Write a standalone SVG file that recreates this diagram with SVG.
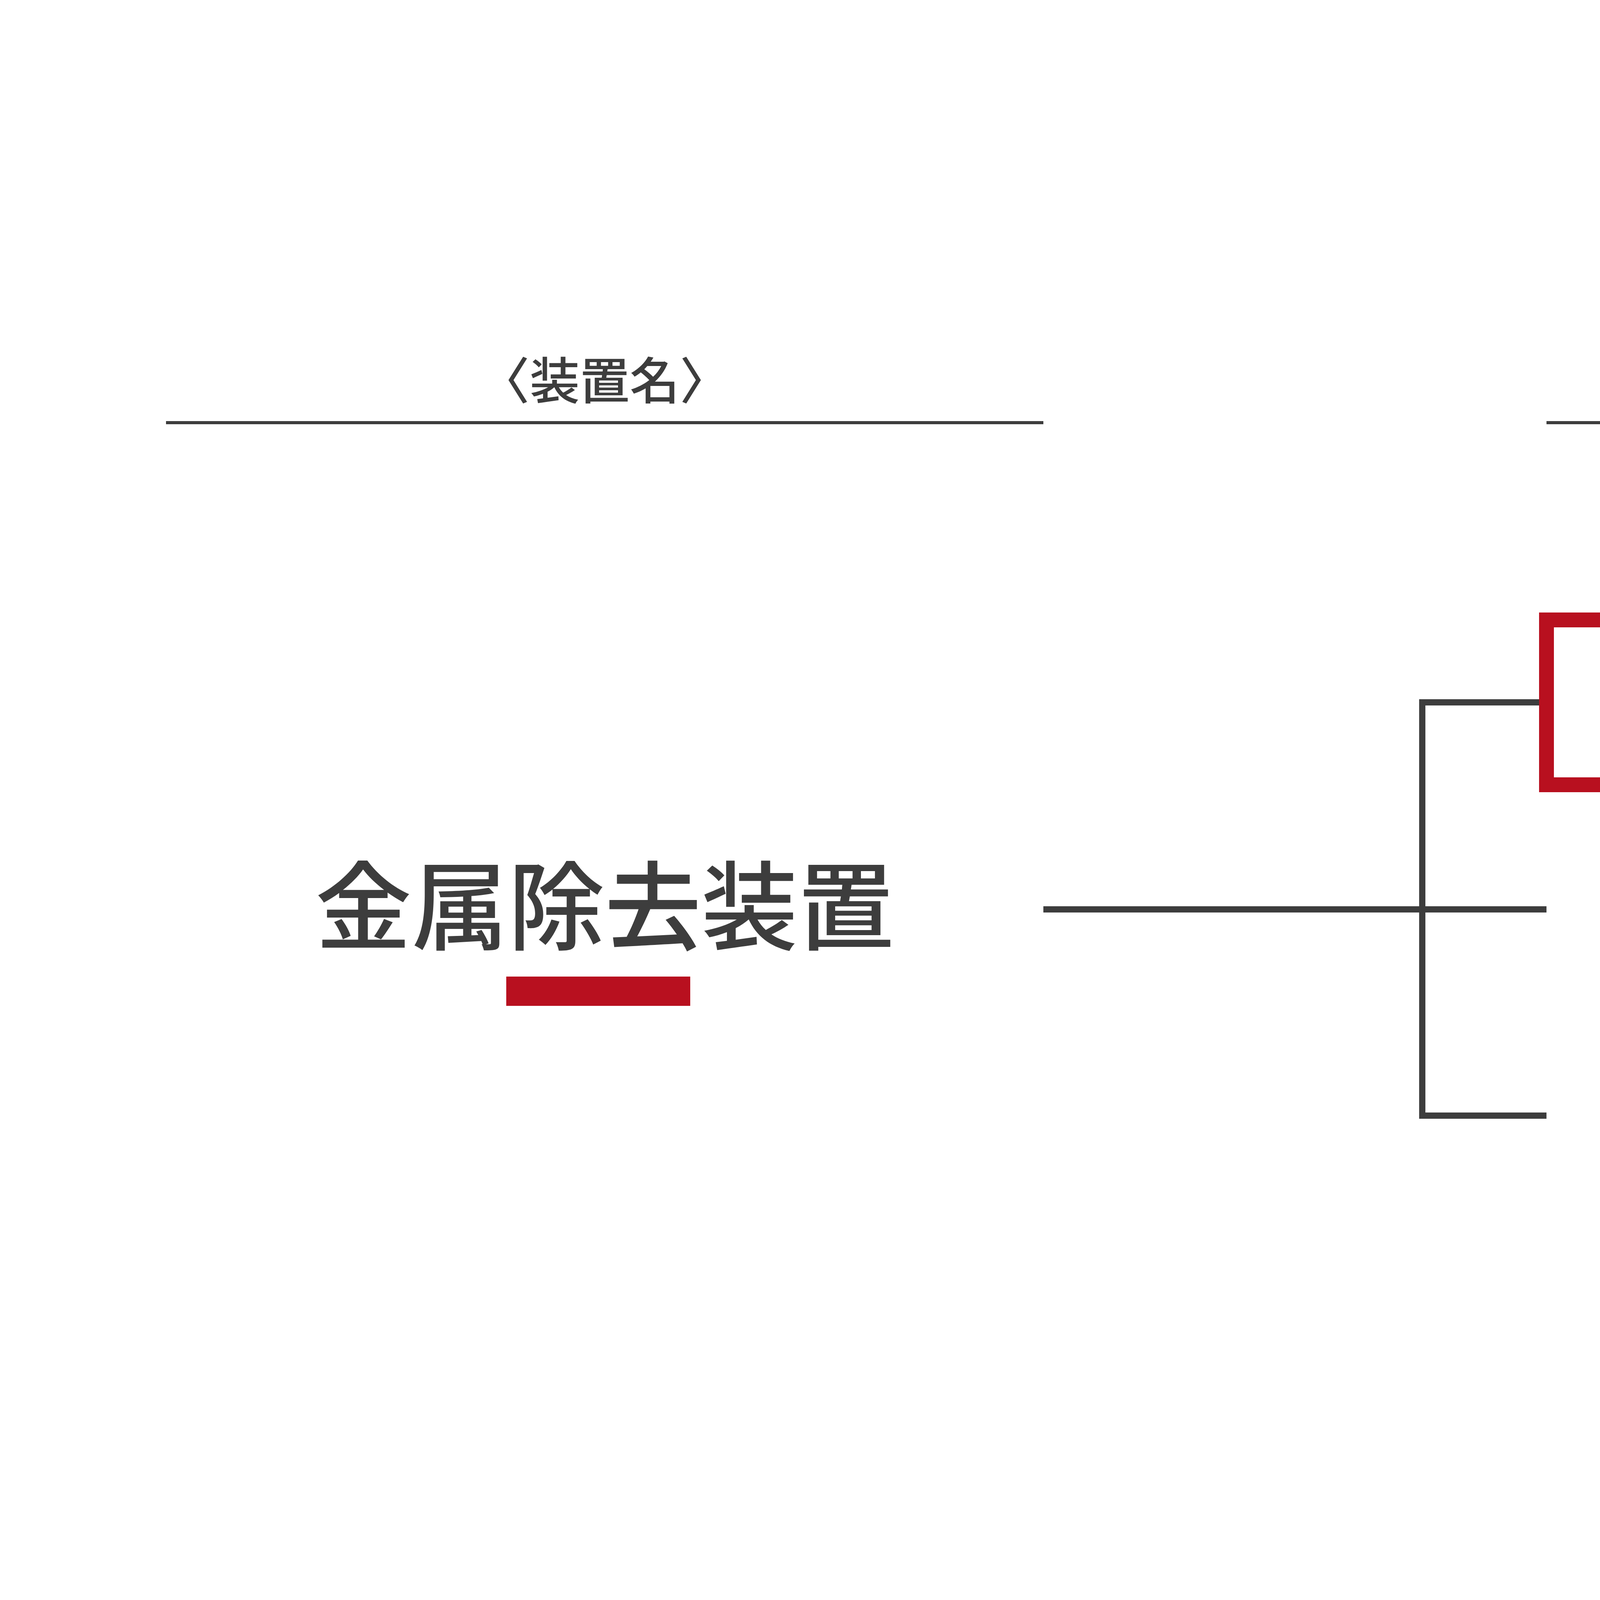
<svg xmlns="http://www.w3.org/2000/svg" width="6667" height="4167" viewBox="0 0 6667 4167">
<style>
  text { font-family: "Noto Sans CJK JP", "Noto Sans CJK SC", sans-serif; fill: #3d3d3d; font-weight: 500; }
  .hdr { font-size: 128px; text-anchor: middle; }
  .big { font-size: 247px; }
  .item { font-size: 250px; }
  .rule { stroke: #3d3d3d; stroke-width: 8; fill: none; }
  .conn { stroke: #3d3d3d; stroke-width: 16; fill: none; stroke-linejoin: miter; }
</style>
<rect x="0" y="0" width="6667" height="4167" fill="#ffffff"/>
<g id="header-left">
  <text class="hdr" x="1548" y="1022">〈装置名〉</text>
  <line class="rule" x1="425" y1="1082" x2="2671" y2="1082"/>
</g>
<g id="header-right">
  <text class="hdr" x="5063" y="1022">〈構造パターン〉</text>
  <line class="rule" x1="3959" y1="1082" x2="6170" y2="1082"/>
</g>
<g id="connectors">
  <path class="conn" d="M3959,1798 H3641 V2856 H3959"/>
  <path class="conn" d="M2671,2328 H3959"/>
</g>
<g id="node-device">
  <text class="big" x="1548" y="2412" text-anchor="middle">金属除去装置</text>
  <rect x="1296" y="2500" width="471" height="75" fill="#b8101f"/>
</g>
<g id="node-free-fall">
  <rect x="3959" y="1587" width="1753" height="422" fill="none" stroke="#b8101f" stroke-width="38"/>
  <text class="item" x="4086" y="1882">自由落下向け</text>
</g>
<g id="node-molding">
  <text class="item" x="4093" y="2412">成形機用</text>
</g>
<g id="node-pneumatic">
  <text class="item" x="4093" y="2935">空気輸送用</text>
</g>
</svg>
